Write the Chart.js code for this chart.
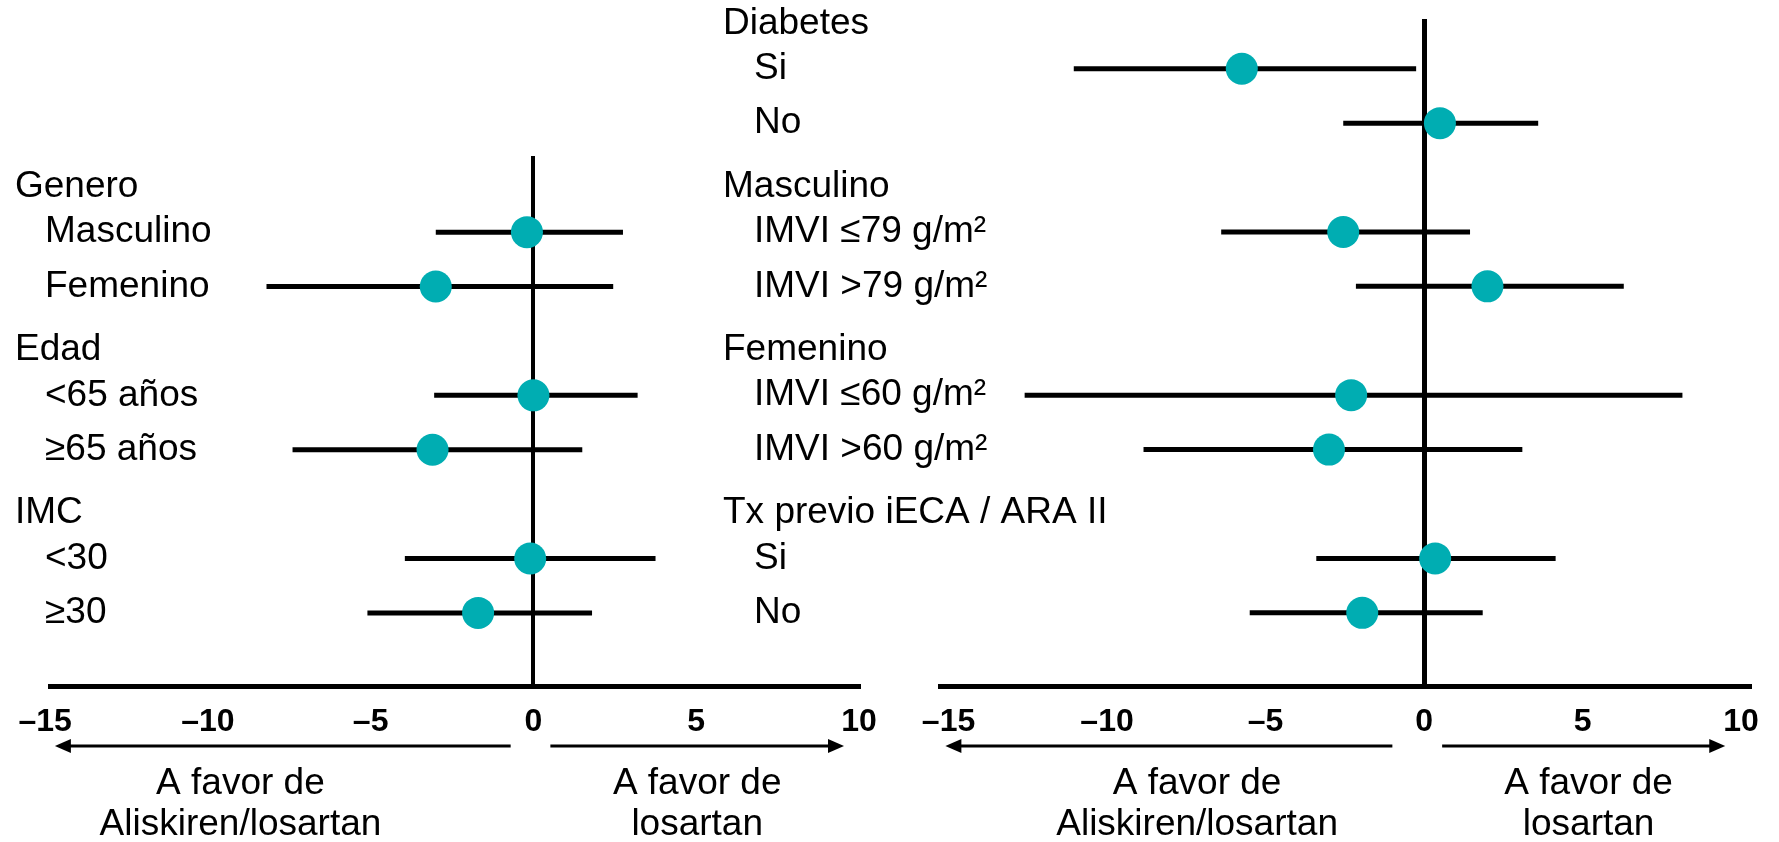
<!DOCTYPE html>
<html>
<head>
<meta charset="utf-8">
<script src="https://cdn.jsdelivr.net/npm/chart.js@4.4.0/dist/chart.umd.min.js"></script>
<style>
  html, body { margin: 0; padding: 0; background: #fff; }
  body { width: 1779px; height: 842px; position: relative; overflow: hidden; }
  .panel { position: absolute; top: 0; height: 842px; }
  #left-wrap { left: 0; width: 900px; }
  #right-wrap { left: 700px; width: 1079px; }
</style>
</head>
<body>
<div class="panel" id="left-wrap"><canvas id="left-chart" width="900" height="842"></canvas></div>
<div class="panel" id="right-wrap"><canvas id="right-chart" width="1079" height="842"></canvas></div>
<script>
// Panel izquierdo: subgrupos (null = titulo de grupo)
const leftLabels = ['Genero', 'Masculino', 'Femenino', 'Edad', '<65 años', '≥65 años', 'IMC', '<30', '≥30'];
const leftEstimate = [null, -0.2, -3.0, null, 0.0, -3.1, null, -0.1, -1.7];
const leftLower = [null, -3.0, -8.2, null, -3.05, -7.4, null, -3.95, -5.1];
const leftUpper = [null, 2.75, 2.45, null, 3.2, 1.5, null, 3.75, 1.8];

// Panel derecho
const rightLabels = ['Diabetes', 'Si', 'No', 'Masculino', 'IMVI ≤79 g/m²', 'IMVI >79 g/m²',
    'Femenino', 'IMVI ≤60 g/m²', 'IMVI >60 g/m²', 'Tx previo iECA / ARA II', 'Si', 'No'];
const rightEstimate = [null, -5.75, 0.5, null, -2.55, 2.0, null, -2.3, -3.0, null, 0.35, -1.95];
const rightLower = [null, -11.05, -2.55, null, -6.4, -2.15, null, -12.6, -8.85, null, -3.4, -5.5];
const rightUpper = [null, -0.25, 3.6, null, 1.45, 6.3, null, 8.15, 3.1, null, 4.15, 1.85];

const xTicks = [-15, -10, -5, 0, 5, 10];
const favourAliskiren = ['A favor de', 'Aliskiren/losartan'];
const favourLosartan = ['A favor de', 'losartan'];

const FONT = '"Liberation Sans", Arial, Helvetica, sans-serif';
const TEAL = '#00ADB2';

// Etiquetas, flechas y textos "A favor de"
const forestDecor = {
    id: 'forestDecor',
    afterDraw(chart, args, opts) {
        const ctx = chart.ctx;
        const xs = chart.scales.x;
        const ys = chart.scales.y;
        ctx.save();
        ctx.fillStyle = '#000';
        ctx.strokeStyle = '#000';
        ctx.font = '37px ' + FONT;
        ctx.textAlign = 'left';
        ctx.textBaseline = 'middle';
        opts.labels.forEach(function(label, i) {
            const header = opts.estimate[i] === null;
            const px = header ? opts.headerX : opts.itemX;
            const py = ys.getPixelForValue(i) + (header ? opts.headerShift : 0);
            ctx.fillText(label, px, py);
        });

        // Flechas
        const ay = chart.chartArea.bottom + 60;
        ctx.lineWidth = 3;
        opts.arrows.forEach(function(a) {
            const x0 = xs.getPixelForValue(a[0]);
            const x1 = xs.getPixelForValue(a[1]);
            const dir = Math.sign(x1 - x0);
            ctx.beginPath();
            ctx.moveTo(x0, ay);
            ctx.lineTo(x1 - dir * 12, ay);
            ctx.stroke();
            ctx.beginPath();
            ctx.moveTo(x1, ay);
            ctx.lineTo(x1 - dir * 16, ay - 7);
            ctx.lineTo(x1 - dir * 16, ay + 7);
            ctx.closePath();
            ctx.fill();
        });

        // Textos bajo las flechas
        ctx.textAlign = 'center';
        ctx.textBaseline = 'alphabetic';
        opts.captions.forEach(function(c) {
            const cx = xs.getPixelForValue(c.at);
            c.lines.forEach(function(line, k) {
                ctx.fillText(line, cx, chart.chartArea.bottom + 108 + k * 41);
            });
        });
        ctx.restore();
    }
};

function buildDatasets(estimate, lower, upper) {
    const dots = {
        data: [],
        pointRadius: 16,
        pointHoverRadius: 16,
        pointBackgroundColor: TEAL,
        pointBorderWidth: 0,
        order: 0
    };
    const lines = [];
    estimate.forEach(function(v, i) {
        if (v === null) {
            return;
        }
        dots.data.push({ x: v, y: i });
        lines.push({
            data: [{ x: lower[i], y: i }, { x: upper[i], y: i }],
            showLine: true,
            borderColor: '#000',
            borderWidth: 5,
            borderCapStyle: 'butt',
            pointRadius: 0,
            pointHoverRadius: 0,
            order: 1
        });
    });
    return [dots].concat(lines);
}

function makePanel(canvasId, cfg) {
    return new Chart(document.getElementById(canvasId), {
        type: 'scatter',
        data: { datasets: buildDatasets(cfg.estimate, cfg.lower, cfg.upper) },
        options: {
            responsive: false,
            animation: false,
            devicePixelRatio: 1,
            layout: { padding: cfg.padding },
            plugins: {
                legend: { display: false },
                tooltip: { enabled: false },
                forestDecor: {
                    labels: cfg.labels,
                    estimate: cfg.estimate,
                    headerX: cfg.headerX,
                    itemX: cfg.itemX,
                    headerShift: 9,
                    arrows: cfg.arrows,
                    captions: cfg.captions
                }
            },
            scales: {
                x: {
                    type: 'linear',
                    min: cfg.xMin,
                    max: cfg.xMax,
                    afterBuildTicks: function(scale) {
                        scale.ticks = xTicks.map(function(v) { return { value: v }; });
                    },
                    grid: {
                        drawTicks: false,
                        lineWidth: cfg.zeroWidth,
                        color: function(c) {
                            return c.tick && c.tick.value === 0 ? '#000' : 'rgba(0,0,0,0)';
                        }
                    },
                    border: { display: true, color: '#000', width: 5 },
                    ticks: {
                        padding: 17,
                        color: '#000',
                        autoSkip: false,
                        maxRotation: 0,
                        font: { family: FONT, size: 32, weight: 'bold' },
                        callback: function(v) { return v < 0 ? '–' + Math.abs(v) : String(v); }
                    }
                },
                y: {
                    type: 'linear',
                    reverse: true,
                    min: cfg.yMin,
                    max: cfg.yMax,
                    display: false
                }
            }
        },
        plugins: [forestDecor]
    });
}

makePanel('left-chart', {
    labels: leftLabels,
    estimate: leftEstimate,
    lower: leftLower,
    upper: leftUpper,
    padding: { left: 50, right: 41, top: 156, bottom: 83.6 },
    xMin: -14.85,
    xMax: 10,
    yMin: -0.40,
    yMax: 9.344,
    zeroWidth: 4,
    headerX: 15,
    itemX: 45,
    arrows: [[-0.7, -14.7], [0.52, 9.54]],
    captions: [{ at: -9.0, lines: favourAliskiren }, { at: 5.03, lines: favourLosartan }]
});

makePanel('right-chart', {
    labels: rightLabels,
    estimate: rightEstimate,
    lower: rightLower,
    upper: rightUpper,
    padding: { left: 240, right: 30, top: 19, bottom: 83.6 },
    xMin: -15.27,
    xMax: 10.25,
    yMin: 0.086,
    yMax: 12.345,
    zeroWidth: 5,
    headerX: 23,
    itemX: 54,
    arrows: [[-1.0, -15.1], [0.57, 9.5]],
    captions: [{ at: -7.16, lines: favourAliskiren }, { at: 5.19, lines: favourLosartan }]
});
</script>
</body>
</html>
